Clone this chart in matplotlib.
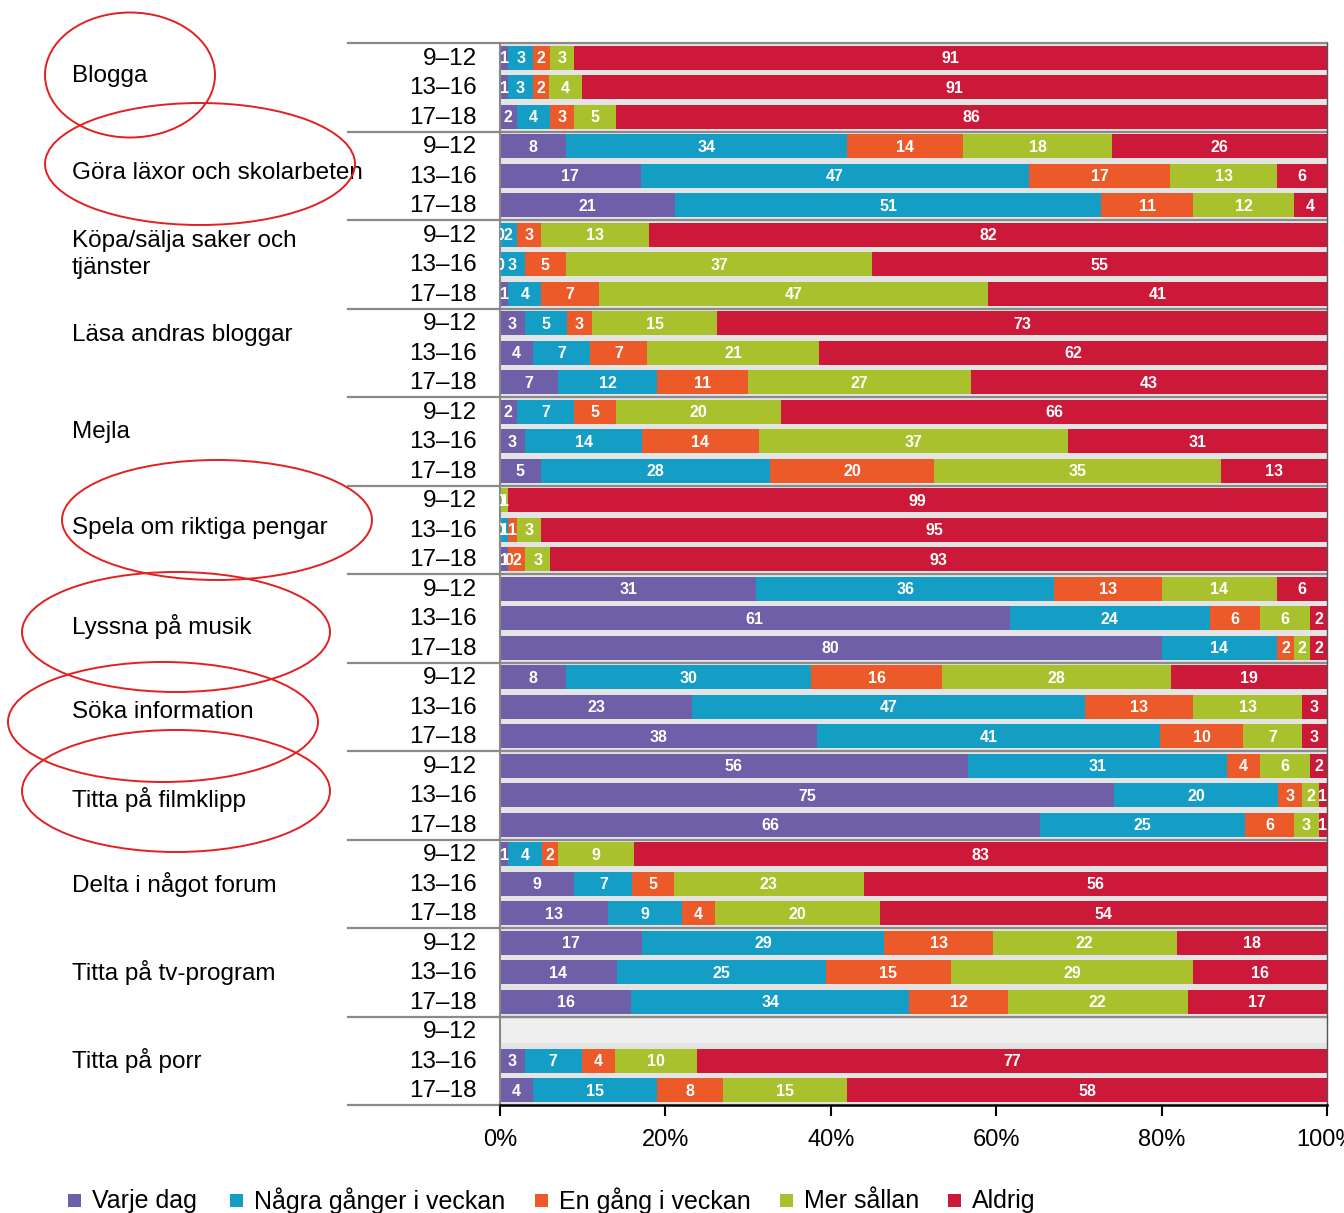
import matplotlib
matplotlib.use("Agg")
import matplotlib.pyplot as plt
from matplotlib.patches import Ellipse, Rectangle
from matplotlib.transforms import blended_transform_factory

plt.rcParams['font.family'] = ['Liberation Sans', 'DejaVu Sans']

# Categories and age groups
categories = ['Blogga', 'Göra läxor och skolarbeten', 'Köpa/sälja saker och\ntjänster',
              'Läsa andras bloggar', 'Mejla', 'Spela om riktiga pengar', 'Lyssna på musik',
              'Söka information', 'Titta på filmklipp', 'Delta i något forum',
              'Titta på tv-program', 'Titta på porr']
ages = ['9–12', '13–16', '17–18']

series_names = ['Varje dag', 'Några gånger i veckan', 'En gång i veckan', 'Mer sållan', 'Aldrig']

# one value per bar (category x age), None = no data
varje_dag = [1, 1, 2, 8, 17, 21, 0, 0, 1, 3, 4, 7, 2, 3, 5, 0, 0, 1,
             31, 61, 80, 8, 23, 38, 56, 75, 66, 1, 9, 13, 17, 14, 16, None, 3, 4]
nagra_ganger = [3, 3, 4, 34, 47, 51, 2, 3, 4, 5, 7, 12, 7, 14, 28, 0, 1, 0,
                36, 24, 14, 30, 47, 41, 31, 20, 25, 4, 7, 9, 29, 25, 34, None, 7, 15]
en_gang = [2, 2, 3, 14, 17, 11, 3, 5, 7, 3, 7, 11, 5, 14, 20, 0, 1, 2,
           13, 6, 2, 16, 13, 10, 4, 3, 6, 2, 5, 4, 13, 15, 12, None, 4, 8]
mer_sallan = [3, 4, 5, 18, 13, 12, 13, 37, 47, 15, 21, 27, 20, 37, 35, 1, 3, 3,
              14, 6, 2, 28, 13, 7, 6, 2, 3, 9, 23, 20, 22, 29, 22, None, 10, 15]
aldrig = [91, 91, 86, 26, 6, 4, 82, 55, 41, 73, 62, 43, 66, 31, 13, 99, 95, 93,
          6, 2, 2, 19, 3, 3, 2, 1, 1, 83, 56, 54, 18, 16, 17, None, 77, 58]

series = [varje_dag, nagra_ganger, en_gang, mer_sallan, aldrig]
colors = ['#6f5ea8', '#159ec5', '#ec5a2a', '#aac12e', '#cc1839']

W, H = 1344, 1213
fig = plt.figure(figsize=(W / 100, H / 100), dpi=100)
ax = fig.add_axes([500 / W, 1 - 1105 / H, 827 / W, (1105 - 43) / H])
ax.set_facecolor('#e4e4e4')

n_rows = len(categories) * len(ages)
for r in range(n_rows):
    vals = [s[r] for s in series]
    if vals[0] is None:
        ax.barh(r, 100, height=0.8, color='#efefef', linewidth=0)
        continue
    total = sum(vals)
    left = 0
    last_x = None
    for v, c in zip(vals, colors):
        w = v / total * 100
        ax.barh(r, w, left=left, height=0.8, color=c, linewidth=0)
        xc = left + w / 2
        # zero-width segments at the same spot share one label
        if not (v == 0 and last_x is not None and abs(last_x - xc) < 1e-9):
            ax.text(xc, r + 0.03, str(v), ha='center', va='center', color='white',
                    fontsize=11.5, fontweight='bold', clip_on=True)
            last_x = xc
        left += w

ax.set_xlim(0, 100)
ax.set_ylim(n_rows - 0.5, -0.5)
ax.set_yticks([])
ax.set_xticks(range(0, 101, 20))
ax.set_xticklabels([f'{t}%' for t in range(0, 101, 20)], fontsize=17)
ax.tick_params(axis='x', direction='out', length=8, width=1.5, pad=9)
ax.spines['top'].set_visible(False)
ax.spines['left'].set_color('#888888')
ax.spines['left'].set_linewidth(1.5)
ax.spines['right'].set_color('#555555')
ax.spines['right'].set_linewidth(1)
ax.spines['bottom'].set_linewidth(1.8)

trans = blended_transform_factory(ax.transAxes, ax.transData)
x_line = (348 - 500) / 827
for g in range(len(categories) + 1):
    y = g * 3 - 0.5
    ax.plot([x_line, 1 if g < len(categories) else 0], [y, y], color='#8a8a8a', lw=1.6,
            transform=trans, clip_on=False)

# age labels
x_age = (477 - 500) / 827
for r in range(n_rows):
    ax.text(x_age, r + 0.03, ages[r % 3], transform=trans, ha='right', va='center', fontsize=17.5)

# category labels
label_shift = [-0.37, -0.1, -0.33, -0.6, -0.33, -0.05, 0.27, 0.17, 0.13, 0.03, 0, 0]
x_cat = (72 - 500) / 827
for g, cat in enumerate(categories):
    ax.text(x_cat, g * 3 + 1 + label_shift[g], cat, transform=trans, ha='left', va='center',
            fontsize=17.5, linespacing=1.25)

# hand-drawn red ellipses (centre x, centre y, width, height in pixels)
ellipses = [(130, 75, 170, 125), (200, 164, 310, 122), (217, 520, 310, 120),
            (176, 632, 308, 120), (163, 722, 310, 120), (176, 791, 308, 122)]
for cx, cy, ew, eh in ellipses:
    fig.add_artist(Ellipse((cx / W, 1 - cy / H), ew / W, eh / H, transform=fig.transFigure,
                           fill=False, edgecolor='#e2201f', lw=1.4))

# legend
sq_x = [68, 230, 535, 780, 948]
for x, name, c in zip(sq_x, series_names, colors):
    fig.add_artist(Rectangle((x / W, 1 - 1207 / H), 13 / W, 13 / H, transform=fig.transFigure,
                             color=c, lw=0))
    fig.text((x + 24) / W, 1 - 1201 / H, name, fontsize=18, va='center', ha='left')

fig.savefig('out.png', dpi=100)
